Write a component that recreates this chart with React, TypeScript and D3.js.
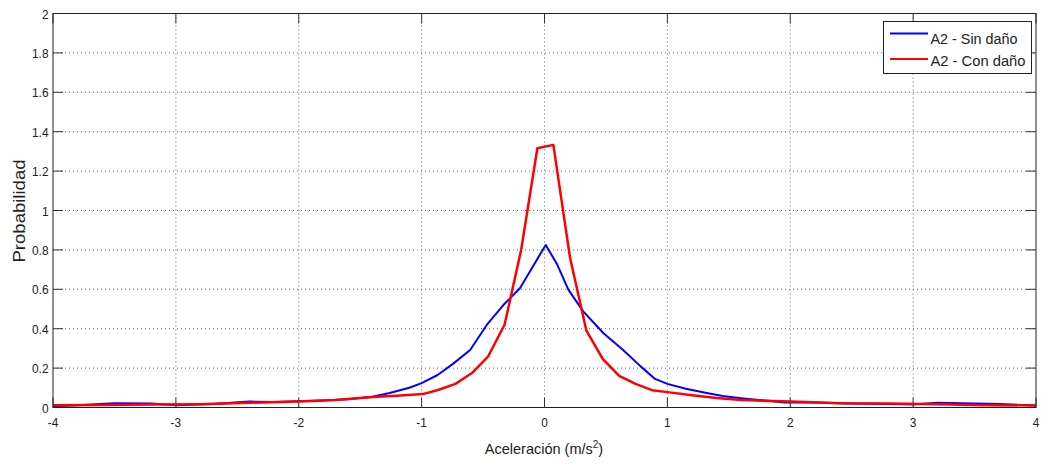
import React from "react";
import * as d3 from "d3";

const xTicks = [-4, -3, -2, -1, 0, 1, 2, 3, 4];
const yTicks = [0, 0.2, 0.4, 0.6, 0.8, 1, 1.2, 1.4, 1.6, 1.8, 2];
const yTickLabels = ["0", "0.2", "0.4", "0.6", "0.8", "1", "1.2", "1.4", "1.6", "1.8", "2"];

const sinX = [-4.0, -3.8, -3.5, -3.2, -3.0, -2.7, -2.4, -2.2, -2.0, -1.8, -1.6, -1.4, -1.26, -1.1, -1.0, -0.87, -0.74, -0.605, -0.47, -0.335, -0.2, -0.063, 0.01, 0.1, 0.195, 0.317, 0.48, 0.64, 0.78, 0.9, 1.0, 1.15, 1.32, 1.45, 1.6, 1.8, 1.95, 2.2, 2.5, 2.8, 3.0, 3.2, 3.5, 3.7, 4.0];
const sinY = [0.006, 0.012, 0.022, 0.02, 0.012, 0.018, 0.03, 0.028, 0.032, 0.036, 0.042, 0.055, 0.074, 0.1, 0.124, 0.165, 0.224, 0.292, 0.419, 0.52, 0.605, 0.749, 0.825, 0.73, 0.597, 0.487, 0.377, 0.292, 0.21, 0.145, 0.12, 0.095, 0.074, 0.058, 0.047, 0.035, 0.025, 0.025, 0.02, 0.018, 0.015, 0.024, 0.02, 0.018, 0.01];

const conX = [-4.0, -3.6, -3.2, -2.8, -2.4, -2.0, -1.7, -1.4, -1.2, -0.99, -0.86, -0.725, -0.59, -0.458, -0.325, -0.19, -0.058, 0.072, 0.208, 0.341, 0.475, 0.608, 0.741, 0.875, 1.0, 1.2, 1.4, 1.6, 2.0, 2.4, 2.8, 3.2, 3.6, 4.0];
const conY = [0.012, 0.013, 0.015, 0.017, 0.024, 0.03, 0.038, 0.053, 0.06, 0.068, 0.09, 0.12, 0.175, 0.26, 0.42, 0.8, 1.316, 1.333, 0.76, 0.39, 0.245, 0.16, 0.12, 0.088, 0.078, 0.062, 0.048, 0.038, 0.03, 0.022, 0.02, 0.016, 0.012, 0.01];

const seriesNames = ["A2 - Sin daño", "A2 - Con daño"];
const seriesColors = ["#0000ff", "#ff0000"];

export default function App() {
  const W = 1048, H = 464;
  const L = 53, R = 1036, T = 13.5, B = 407.5;
  const x = d3.scaleLinear().domain([-4, 4]).range([L, R]);
  const y = d3.scaleLinear().domain([0, 2]).range([B, T]);
  const line = d3.line<[number, number]>().x(d => x(d[0])).y(d => y(d[1]));
  const sinPts = sinX.map((v, i) => [v, sinY[i]] as [number, number]);
  const conPts = conX.map((v, i) => [v, conY[i]] as [number, number]);
  const font = "'Liberation Sans', Arial, sans-serif";
  const tl = 10;
  const sx = 0.88;
  const legLineY = [33.5, 59];
  const legTextY = [43.5, 66];
  const legWidths = [87, 95];
  return (
    <svg width={W} height={H} style={{ position: "absolute", left: 0, top: 0, background: "#fff" }} fontFamily={font}>
      <rect x={0} y={0} width={W} height={H} fill="#fff" />
      {/* grid */}
      {xTicks.slice(1, -1).map(t => (
        <line key={"gx" + t} x1={x(t)} x2={x(t)} y1={T} y2={B} stroke="#666" strokeWidth={1} strokeDasharray="1,3" />
      ))}
      {yTicks.slice(1, -1).map(t => (
        <line key={"gy" + t} x1={L} x2={R} y1={y(t)} y2={y(t)} stroke="#666" strokeWidth={1} strokeDasharray="1,3" />
      ))}
      {/* ticks */}
      {xTicks.map(t => (
        <g key={"tx" + t}>
          <line x1={x(t)} x2={x(t)} y1={B} y2={B - tl} stroke="#333" />
          <line x1={x(t)} x2={x(t)} y1={T} y2={T + tl} stroke="#333" />
          <g transform={`translate(${x(t)}, 427) scale(${sx}, 1)`}>
            <text x={0} y={0} textAnchor="middle" fontSize={13.5} fill="#222">{t}</text>
          </g>
        </g>
      ))}
      {yTicks.map((t, i) => (
        <g key={"ty" + t}>
          <line x1={L} x2={L + tl} y1={y(t)} y2={y(t)} stroke="#333" />
          <line x1={R} x2={R - tl} y1={y(t)} y2={y(t)} stroke="#333" />
          <g transform={`translate(48.5, ${y(t) + 5}) scale(${sx}, 1)`}>
            <text x={0} y={0} textAnchor="end" fontSize={13.5} fill="#222">{yTickLabels[i]}</text>
          </g>
        </g>
      ))}
      {/* data */}
      <path d={line(sinPts) || ""} fill="none" stroke={seriesColors[0]} strokeWidth={2} strokeLinejoin="round" />
      <path d={line(conPts) || ""} fill="none" stroke={seriesColors[1]} strokeWidth={2.5} strokeLinejoin="round" />
      {/* box */}
      <rect x={L} y={T} width={R - L} height={B - T} fill="none" stroke="#222" strokeWidth={1} />
      {/* labels */}
      <text x={544} y={454} textAnchor="middle" fontSize={14.5} fill="#222">
        Aceleración (m/s<tspan dy={-6} fontSize={10}>2</tspan><tspan dy={6}>)</tspan>
      </text>
      <text transform={`translate(24.5, 211) rotate(-90)`} textAnchor="middle" fontSize={17} fill="#222" textLength={103} lengthAdjust="spacingAndGlyphs">Probabilidad</text>
      {/* legend */}
      <rect x={883.5} y={21.5} width={148} height={52} fill="#fff" stroke="#222" strokeWidth={1} />
      {seriesNames.map((n, i) => (
        <g key={n}>
          <line x1={890} x2={928} y1={legLineY[i]} y2={legLineY[i]} stroke={seriesColors[i]} strokeWidth={2} />
          <text x={930.5} y={legTextY[i]} fontSize={15.5} fill="#222" textLength={legWidths[i]} lengthAdjust="spacingAndGlyphs">{n}</text>
        </g>
      ))}
    </svg>
  );
}
